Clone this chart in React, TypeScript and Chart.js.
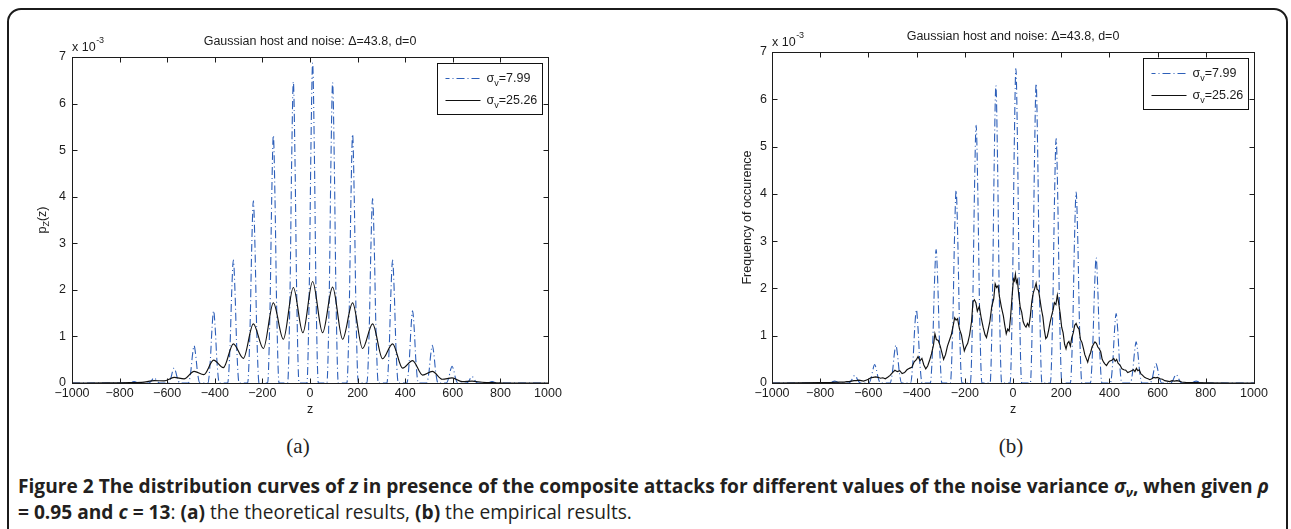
import { useEffect, useRef } from 'react';
import { Chart, registerables } from 'chart.js';

Chart.register(...registerables);

const FONT = "'Liberation Sans', Arial, Helvetica, sans-serif";
const CAP_FONT = "'Open Sans', 'Noto Sans', sans-serif";
const INK = '#1c1c1c';
const BLUE = '#2d5fb9';

// axis ticks
const zTicks = [-1000, -800, -600, -400, -200, 0, 200, 400, 600, 800, 1000];
const zTickLabels = ['\u22121000', '\u2212800', '\u2212600', '\u2212400', '\u2212200', '0', '200', '400', '600', '800', '1000'];
const pTicks = [0, 1, 2, 3, 4, 5, 6, 7];
const pTickLabels = ['0', '1', '2', '3', '4', '5', '6', '7'];

const plotTitle = 'Gaussian host and noise: \u0394=43.8, d=0';
const legendValues = ['=7.99', '=25.26'];

type Pt = [number, number];

// theoretical density, sigma_v = 7.99 (values x 10^-3)
const theoryNarrow: Pt[] = [
  [-1000, 0],
  [-763, 0], [-753, 0.01], [-746, 0.02], [-739, 0.03], [-732, 0.02], [-725, 0.01], [-715, 0],
  [-679, 0], [-669, 0.03], [-662, 0.08], [-655, 0.11], [-648, 0.08], [-641, 0.03], [-631, 0],
  [-595, 0], [-585, 0.1], [-578, 0.24], [-571, 0.32], [-564, 0.24], [-557, 0.1], [-547, 0],
  [-511, 0], [-501, 0.24], [-494, 0.59], [-487, 0.8], [-480, 0.59], [-473, 0.24], [-463, 0],
  [-429, 0], [-419, 0.47], [-412, 1.15], [-405, 1.55], [-398, 1.15], [-391, 0.47], [-381, 0],
  [-346, 0], [-336, 0.79], [-329, 1.95], [-322, 2.64], [-315, 1.95], [-308, 0.79], [-298, 0],
  [-262, 0], [-252, 1.17], [-245, 2.89], [-238, 3.91], [-231, 2.89], [-224, 1.17], [-214, 0],
  [-178, 0], [-168, 1.6], [-161, 3.94], [-154, 5.32], [-147, 3.94], [-140, 1.6], [-130, 0],
  [-94, 0], [-84, 1.94], [-77, 4.79], [-70, 6.47], [-63, 4.79], [-56, 1.94], [-46, 0],
  [-13, 0], [-3, 2.06], [4, 5.08], [11, 6.87], [18, 5.08], [25, 2.06], [35, 0],
  [71, 0], [81, 1.94], [88, 4.77], [95, 6.45], [102, 4.77], [109, 1.94], [119, 0],
  [155, 0], [165, 1.6], [172, 3.95], [179, 5.34], [186, 3.95], [193, 1.6], [203, 0],
  [239, 0], [249, 1.19], [256, 2.93], [263, 3.96], [270, 2.93], [277, 1.19], [287, 0],
  [323, 0], [333, 0.79], [340, 1.95], [347, 2.64], [354, 1.95], [361, 0.79], [371, 0],
  [407, 0], [417, 0.47], [424, 1.15], [431, 1.55], [438, 1.15], [445, 0.47], [455, 0],
  [490, 0], [500, 0.24], [507, 0.6], [514, 0.81], [521, 0.6], [528, 0.24], [538, 0],
  [573, 0], [583, 0.11], [590, 0.27], [597, 0.36], [604, 0.27], [611, 0.11], [621, 0],
  [657, 0], [667, 0.04], [674, 0.1], [681, 0.14], [688, 0.1], [695, 0.04], [705, 0],
  [741, 0], [751, 0.01], [758, 0.02], [765, 0.03], [772, 0.02], [779, 0.01], [789, 0],
  [1000, 0],
];

// theoretical density, sigma_v = 25.26 (values x 10^-3)
const theoryWide: Pt[] = [
  [-1000, 0], [-850, 0.002], [-760, 0.008], [-697, 0.02], [-655, 0.05], [-613, 0.045],
  [-571, 0.12], [-529, 0.09], [-487, 0.25], [-446, 0.18], [-405, 0.49], [-364, 0.33],
  [-322, 0.84], [-280, 0.53], [-238, 1.27], [-196, 0.74], [-154, 1.72], [-112, 0.94],
  [-70, 2.05], [-30, 1.08], [11, 2.18], [53, 1.08], [95, 2.06], [137, 0.94],
  [179, 1.72], [221, 0.74], [263, 1.27], [305, 0.52], [347, 0.84], [389, 0.32],
  [431, 0.48], [473, 0.17], [514, 0.25], [556, 0.08], [597, 0.11], [639, 0.03],
  [681, 0.04], [723, 0.015], [780, 0.006], [870, 0.001], [1000, 0],
];

// measured frequency, sigma_v = 7.99 (values x 10^-3)
const empiricNarrow: Pt[] = [
  [-1000, 0],
  [-764, 0], [-754, 0.01], [-747, 0.03], [-740, 0.04], [-733, 0.03], [-726, 0.01], [-716, 0],
  [-681, 0], [-671, 0.05], [-664, 0.12], [-657, 0.16], [-650, 0.12], [-643, 0.05], [-633, 0],
  [-598, 0], [-588, 0.12], [-581, 0.29], [-574, 0.39], [-567, 0.29], [-560, 0.12], [-550, 0],
  [-510, 0], [-500, 0.24], [-493, 0.59], [-486, 0.8], [-479, 0.59], [-472, 0.24], [-462, 0],
  [-425, 0], [-415, 0.47], [-408, 1.15], [-401, 1.55], [-394, 1.15], [-387, 0.47], [-377, 0],
  [-343, 0], [-333, 0.85], [-326, 2.09], [-319, 2.82], [-312, 2.09], [-305, 0.85], [-295, 0],
  [-260, 0], [-250, 1.22], [-243, 3.01], [-236, 4.07], [-229, 3.01], [-222, 1.22], [-212, 0],
  [-177, 0], [-167, 1.64], [-160, 4.03], [-153, 5.45], [-146, 4.03], [-139, 1.64], [-129, 0],
  [-95, 0], [-85, 1.89], [-78, 4.65], [-71, 6.29], [-64, 4.65], [-57, 1.89], [-47, 0],
  [-12, 0], [-2, 2.0], [5, 4.92], [12, 6.65], [19, 4.92], [26, 2.0], [36, 0],
  [72, 0], [82, 1.9], [89, 4.68], [96, 6.33], [103, 4.68], [110, 1.9], [120, 0],
  [155, 0], [165, 1.55], [172, 3.83], [179, 5.17], [186, 3.83], [193, 1.55], [203, 0],
  [238, 0], [248, 1.21], [255, 2.99], [262, 4.04], [269, 2.99], [276, 1.21], [286, 0],
  [321, 0], [331, 0.8], [338, 1.96], [345, 2.65], [352, 1.96], [359, 0.8], [369, 0],
  [404, 0], [414, 0.44], [421, 1.09], [428, 1.47], [435, 1.09], [442, 0.44], [452, 0],
  [487, 0], [497, 0.26], [504, 0.64], [511, 0.87], [518, 0.64], [525, 0.26], [535, 0],
  [569, 0], [579, 0.12], [586, 0.3], [593, 0.41], [600, 0.3], [607, 0.12], [617, 0],
  [653, 0], [663, 0.05], [670, 0.13], [677, 0.18], [684, 0.13], [691, 0.05], [701, 0],
  [736, 0], [746, 0.01], [753, 0.03], [760, 0.04], [767, 0.03], [774, 0.01], [784, 0],
  [1000, 0],
];

// measured frequency, sigma_v = 25.26 (values x 10^-3)
const empiricWide: Pt[] = [
  [-1000, 0], [-900, 0.005], [-800, 0.01], [-760, 0.01], [-720, 0.02], [-710, 0.02],
  [-700, 0.02], [-690, 0.03], [-680, 0.03], [-670, 0.04], [-660, 0.05], [-650, 0.05],
  [-640, 0.06], [-630, 0.05], [-620, 0.04], [-610, 0.06], [-600, 0.08], [-590, 0.11],
  [-580, 0.12], [-570, 0.13], [-560, 0.12], [-550, 0.1], [-540, 0.11], [-530, 0.09],
  [-520, 0.12], [-510, 0.16], [-500, 0.22], [-490, 0.27], [-480, 0.24], [-470, 0.26],
  [-460, 0.2], [-450, 0.22], [-440, 0.28], [-430, 0.31], [-420, 0.33], [-410, 0.45],
  [-400, 0.5], [-394, 0.56], [-386, 0.47], [-378, 0.52], [-370, 0.38], [-362, 0.3],
  [-354, 0.36], [-346, 0.48], [-338, 0.62], [-330, 0.8], [-324, 1.04], [-318, 0.92],
  [-310, 0.9], [-302, 0.78], [-294, 0.62], [-288, 0.5], [-280, 0.6], [-272, 0.78],
  [-264, 0.9], [-256, 1.02], [-248, 1.22], [-242, 1.38], [-236, 1.33], [-230, 1.36],
  [-222, 1.14], [-214, 1.02], [-208, 0.84], [-202, 0.68], [-196, 0.76], [-188, 0.84],
  [-180, 1.02], [-172, 1.3], [-166, 1.72], [-160, 1.76], [-154, 1.7], [-148, 1.52],
  [-140, 1.62], [-132, 1.38], [-124, 1.18], [-116, 1.02], [-110, 0.96], [-104, 1.1],
  [-96, 1.3], [-88, 1.62], [-80, 1.78], [-74, 2.1], [-68, 2.02], [-62, 2.06],
  [-56, 1.82], [-48, 1.6], [-40, 1.42], [-34, 1.22], [-28, 1.04], [-22, 1.14],
  [-16, 1.1], [-10, 1.4], [-4, 1.82], [2, 2.2], [6, 2.16], [10, 2.3],
  [14, 2.12], [18, 2.18], [24, 1.86], [30, 1.6], [36, 1.5], [42, 1.3],
  [48, 1.22], [54, 1.18], [60, 1.26], [66, 1.2], [72, 1.42], [78, 1.72],
  [84, 1.9], [90, 2.0], [96, 2.11], [100, 1.98], [106, 1.96], [112, 1.76],
  [118, 1.56], [124, 1.4], [130, 1.12], [136, 0.94], [142, 0.98], [148, 1.12],
  [154, 1.28], [160, 1.42], [166, 1.54], [172, 1.7], [178, 1.66], [184, 1.86],
  [190, 1.68], [196, 1.46], [202, 1.18], [208, 1.06], [214, 0.82], [220, 0.72],
  [226, 0.84], [232, 0.88], [238, 0.78], [244, 0.96], [250, 1.06], [256, 1.22],
  [262, 1.26], [268, 1.18], [274, 1.14], [280, 0.92], [286, 0.86], [292, 0.74],
  [298, 0.6], [304, 0.52], [310, 0.44], [316, 0.56], [322, 0.64], [328, 0.76],
  [334, 0.82], [340, 0.87], [346, 0.84], [352, 0.76], [358, 0.72], [364, 0.66],
  [370, 0.5], [376, 0.44], [382, 0.4], [388, 0.37], [394, 0.42], [400, 0.46],
  [410, 0.48], [418, 0.52], [424, 0.46], [430, 0.5], [436, 0.42], [444, 0.38],
  [452, 0.3], [460, 0.28], [468, 0.27], [476, 0.22], [484, 0.24], [492, 0.26],
  [500, 0.28], [506, 0.24], [512, 0.31], [518, 0.26], [524, 0.28], [530, 0.2],
  [538, 0.16], [546, 0.12], [554, 0.1], [560, 0.09], [568, 0.07], [576, 0.09],
  [584, 0.12], [592, 0.11], [600, 0.12], [610, 0.09], [620, 0.08], [630, 0.05],
  [640, 0.04], [650, 0.03], [660, 0.05], [670, 0.04], [680, 0.05], [690, 0.04],
  [700, 0.02], [720, 0.01], [760, 0.01], [800, 0.005], [900, 0], [1000, 0],
];

interface PanelSpec {
  narrow: Pt[];
  wide: Pt[];
  smoothWide: boolean;
  yTitle: 'density' | 'frequency';
  yTitleGap: number;
  yLabelPad: number;
  canvasW: number;
  canvasH: number;
  padTop: number;
  padRight: number;
  yAxisW: number;
  xAxisH: number;
}

const DASH_DOT = [8, 3, 1, 3];

function drawYTitle(ctx: CanvasRenderingContext2D, kind: string, x: number, y: number) {
  ctx.save();
  ctx.translate(x, y);
  ctx.rotate(-Math.PI / 2);
  ctx.fillStyle = INK;
  ctx.textBaseline = 'middle';
  const big = `12.5px ${FONT}`;
  const small = `9px ${FONT}`;
  if (kind === 'density') {
    ctx.font = big;
    const wp = ctx.measureText('p').width;
    const wz = ctx.measureText('(z)').width;
    ctx.font = small;
    const ws = ctx.measureText('Z').width;
    let cx = -(wp + ws + wz) / 2;
    ctx.textAlign = 'left';
    ctx.font = big;
    ctx.fillText('p', cx, 0);
    cx += wp;
    ctx.font = small;
    ctx.fillText('Z', cx, 4);
    cx += ws;
    ctx.font = big;
    ctx.fillText('(z)', cx, 0);
  } else {
    ctx.font = big;
    ctx.textAlign = 'center';
    ctx.fillText('Frequency of occurence', 0, 0);
  }
  ctx.restore();
}

function makeDecor(spec: PanelSpec) {
  return {
    id: 'decor',
    afterDraw(chart: any) {
      const ctx: CanvasRenderingContext2D = chart.ctx;
      const a = chart.chartArea;
      const sx = chart.scales.x;
      const sy = chart.scales.y;
      const L = Math.round(a.left) + 0.5;
      const R = Math.round(a.right) + 0.5;
      const T = Math.round(a.top) + 0.5;
      const B = Math.round(a.bottom) + 0.5;
      ctx.save();
      ctx.strokeStyle = INK;
      ctx.lineWidth = 1;
      ctx.setLineDash([]);
      ctx.strokeRect(L, T, R - L, B - T);

      // inward tick marks on all four sides
      const TL = 5;
      ctx.beginPath();
      for (const t of sx.ticks) {
        const px = Math.round(sx.getPixelForValue(t.value)) + 0.5;
        ctx.moveTo(px, B);
        ctx.lineTo(px, B - TL);
        ctx.moveTo(px, T);
        ctx.lineTo(px, T + TL);
      }
      for (const t of sy.ticks) {
        const py = Math.round(sy.getPixelForValue(t.value)) + 0.5;
        ctx.moveTo(L, py);
        ctx.lineTo(L + TL, py);
        ctx.moveTo(R, py);
        ctx.lineTo(R - TL, py);
      }
      ctx.stroke();

      const big = `12.5px ${FONT}`;
      const small = `9px ${FONT}`;
      ctx.fillStyle = INK;
      ctx.textBaseline = 'middle';

      // title
      ctx.font = big;
      ctx.textAlign = 'center';
      ctx.fillText(plotTitle, (a.left + a.right) / 2, a.top - 15);

      // exponent note
      ctx.textAlign = 'left';
      ctx.fillText('x 10', a.left, a.top - 9.5);
      const w10 = ctx.measureText('x 10').width;
      ctx.font = small;
      ctx.fillText('-3', a.left + w10 + 0.5, a.top - 16);

      // x axis title
      ctx.font = big;
      ctx.textAlign = 'center';
      ctx.fillText('z', (a.left + a.right) / 2, a.bottom + 26.5);

      drawYTitle(ctx, spec.yTitle, a.left - spec.yTitleGap, (a.top + a.bottom) / 2);

      // legend
      const bw = 105;
      const bh = 51;
      const bx = Math.round(a.right - 6 - bw) + 0.5;
      const by = Math.round(a.top + 6) + 0.5;
      ctx.fillStyle = '#ffffff';
      ctx.fillRect(bx, by, bw, bh);
      ctx.strokeStyle = '#111111';
      ctx.lineWidth = 1;
      ctx.strokeRect(bx, by, bw, bh);
      const ds = chart.data.datasets;
      const entries = [ds[1], ds[0]];
      entries.forEach((d: any, i: number) => {
        const ly = Math.round(by + 14 + i * 22) + 0.5;
        ctx.save();
        ctx.strokeStyle = d.borderColor;
        ctx.lineWidth = d.borderWidth;
        ctx.setLineDash(d.borderDash || []);
        ctx.lineDashOffset = d.borderDash ? 4 : 0;
        ctx.beginPath();
        ctx.moveTo(bx + 8, ly);
        ctx.lineTo(bx + 43, ly);
        ctx.stroke();
        ctx.restore();
        ctx.fillStyle = INK;
        ctx.textAlign = 'left';
        ctx.textBaseline = 'middle';
        let tx = bx + 49;
        ctx.font = big;
        ctx.fillText('\u03c3', tx, ly);
        tx += ctx.measureText('\u03c3').width;
        ctx.font = small;
        ctx.fillText('v', tx, ly + 5);
        tx += ctx.measureText('v').width;
        ctx.font = big;
        ctx.fillText(legendValues[i], tx, ly);
      });
      ctx.restore();
    },
  };
}

function buildConfig(spec: PanelSpec): any {
  const tickFont = { family: FONT, size: 12.5 };
  return {
    type: 'line',
    data: {
      datasets: [
        {
          label: 'sigma 25.26',
          data: spec.wide.map(([x, y]) => ({ x, y })),
          borderColor: '#111111',
          borderWidth: 1.15,
          pointRadius: 0,
          order: 0,
          tension: 0,
          cubicInterpolationMode: spec.smoothWide ? 'monotone' : 'default',
        },
        {
          label: 'sigma 7.99',
          data: spec.narrow.map(([x, y]) => ({ x, y })),
          borderColor: BLUE,
          borderWidth: 1.1,
          borderDash: DASH_DOT,
          pointRadius: 0,
          order: 1,
          cubicInterpolationMode: 'monotone',
        },
      ],
    },
    options: {
      responsive: false,
      animation: false,
      events: [],
      layout: { padding: { left: 0, top: spec.padTop, right: spec.padRight, bottom: 0 } },
      plugins: {
        legend: { display: false },
        tooltip: { enabled: false },
        title: { display: false },
      },
      scales: {
        x: {
          type: 'linear',
          min: -1000,
          max: 1000,
          grid: { display: false, drawTicks: false },
          border: { display: false },
          afterBuildTicks: (s: any) => {
            s.ticks = zTicks.map((v) => ({ value: v }));
          },
          afterFit: (s: any) => {
            s.height = spec.xAxisH;
          },
          ticks: {
            font: tickFont,
            color: INK,
            padding: 3,
            maxRotation: 0,
            autoSkip: false,
            callback: (v: number) => zTickLabels[zTicks.indexOf(Math.round(v))] ?? '',
          },
        },
        y: {
          type: 'linear',
          min: 0,
          max: 7,
          grid: { display: false, drawTicks: false },
          border: { display: false },
          afterBuildTicks: (s: any) => {
            s.ticks = pTicks.map((v) => ({ value: v }));
          },
          afterFit: (s: any) => {
            s.width = spec.yAxisW;
          },
          ticks: {
            font: tickFont,
            color: INK,
            padding: spec.yLabelPad,
            autoSkip: false,
            callback: (v: number) => pTickLabels[pTicks.indexOf(Math.round(v))] ?? '',
          },
        },
      },
    },
    plugins: [makeDecor(spec)],
  };
}

function Panel({ spec, left, top }: { spec: PanelSpec; left: number; top: number }) {
  const ref = useRef<HTMLCanvasElement>(null);
  useEffect(() => {
    const chart = new Chart(ref.current as HTMLCanvasElement, buildConfig(spec));
    return () => chart.destroy();
  }, [spec]);
  return (
    <canvas
      ref={ref}
      width={spec.canvasW}
      height={spec.canvasH}
      style={{ position: 'absolute', left, top, width: spec.canvasW, height: spec.canvasH }}
    />
  );
}

const theoryPanel: PanelSpec = {
  narrow: theoryNarrow,
  wide: theoryWide,
  smoothWide: true,
  yTitle: 'density',
  yTitleGap: 29,
  yLabelPad: 6,
  canvasW: 560,
  canvasH: 410,
  padTop: 37,
  padRight: 32,
  yAxisW: 52,
  xAxisH: 47,
};

const empiricPanel: PanelSpec = {
  narrow: empiricNarrow,
  wide: empiricWide,
  smoothWide: false,
  yTitle: 'frequency',
  yTitleGap: 24,
  yLabelPad: 5,
  canvasW: 600,
  canvasH: 415,
  padTop: 37,
  padRight: 26,
  yAxisW: 92,
  xAxisH: 47,
};

const subStyle: React.CSSProperties = { fontSize: '0.68em', verticalAlign: '-0.3em', lineHeight: 0 };

export default function App() {
  return (
    <div style={{ position: 'fixed', left: 0, top: 0, width: 1291, height: 529, overflow: 'hidden', background: '#ffffff' }}>
      <div
        style={{
          position: 'absolute',
          left: 7,
          top: 7.5,
          width: 1277,
          height: 600,
          border: '2.5px solid #1b1b1b',
          borderRadius: 14,
        }}
      />
      <Panel spec={theoryPanel} left={20} top={20} />
      <Panel spec={empiricPanel} left={680} top={15} />
      <div
        style={{
          position: 'absolute',
          left: 268,
          top: 434,
          width: 60,
          textAlign: 'center',
          fontFamily: "'Liberation Serif', 'DejaVu Serif', serif",
          fontSize: 21,
          color: '#222',
        }}
      >
        (a)
      </div>
      <div
        style={{
          position: 'absolute',
          left: 981,
          top: 434,
          width: 60,
          textAlign: 'center',
          fontFamily: "'Liberation Serif', 'DejaVu Serif', serif",
          fontSize: 21,
          color: '#222',
        }}
      >
        (b)
      </div>
      <div
        style={{
          position: 'absolute',
          left: 18,
          top: 473,
          fontFamily: CAP_FONT,
          fontSize: 19.15,
          lineHeight: '26px',
          color: '#231f20',
          whiteSpace: 'nowrap',
        }}
      >
        <div>
          <b>
            Figure 2 The distribution curves of <i>z</i> in presence of the composite attacks for different values of the
            noise variance <i>{'\u03c3'}<sub style={subStyle}>{'\u03bd'}</sub></i>, when given <i>{'\u03c1'}</i>
          </b>
        </div>
        <div>
          <b>
            = 0.95 and <i>c</i> = 13
          </b>
          : <b>(a)</b> the theoretical results, <b>(b)</b> the empirical results.
        </div>
      </div>
    </div>
  );
}
